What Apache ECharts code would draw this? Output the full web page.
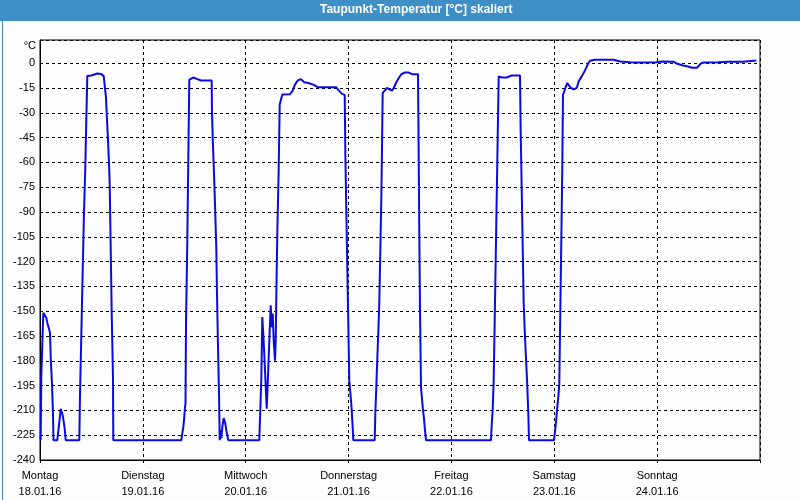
<!DOCTYPE html>
<html><head><meta charset="utf-8">
<script src="https://cdn.jsdelivr.net/npm/echarts@6/dist/echarts.min.js"></script>
<style>html,body{margin:0;padding:0;background:#fcfdfc}#c{width:800px;height:500px}</style>
</head><body><div id="c"></div>
<script>
const chartTitle = 'Taupunkt-Temperatur [°C] skaliert';
const unitLabel = '°C';
const dayNames = ['Montag', 'Dienstag', 'Mittwoch', 'Donnerstag', 'Freitag', 'Samstag', 'Sonntag'];
const dayDates = ['18.01.16', '19.01.16', '20.01.16', '21.01.16', '22.01.16', '23.01.16', '24.01.16'];
// hours since 18.01.16 00:00
const hours = [
  0.16, 0.30, 0.54, 0.77, 1.10, 1.47, 1.70, 2.03, 2.33, 2.50, 2.80, 3.03, 3.15, 4.04, 4.20, 4.43, 4.67, 4.83, 5.13, 5.30,
  5.53, 5.76, 6.00, 9.17, 9.33, 9.57, 9.80, 10.03, 10.27, 10.57, 10.80, 11.04, 11.97, 13.37, 14.16, 14.86, 15.17, 15.40, 15.63, 15.87,
  16.10, 16.26, 16.50, 16.73, 17.03, 17.10, 32.97, 33.20, 33.44, 33.60, 33.83, 33.95, 34.07, 34.37, 34.60, 34.84, 35.00, 35.77, 36.56, 37.57,
  40.06, 40.13, 40.37, 40.67, 40.90, 41.14, 41.30, 41.53, 41.77, 41.93, 42.16, 42.30, 42.54, 42.86, 43.17, 43.47, 43.70, 43.94, 51.17, 51.40,
  51.64, 51.87, 52.20, 52.43, 52.66, 52.90, 53.13, 53.36, 53.60, 53.83, 54.06, 54.30, 54.53, 54.83, 55.00, 55.14, 55.37, 55.70, 55.93, 56.23,
  56.54, 56.93, 58.33, 58.87, 59.50, 60.13, 60.90, 61.67, 62.60, 63.77, 64.80, 69.07, 69.70, 70.47, 71.10, 71.24, 71.47, 71.70, 71.94, 72.17,
  72.50, 72.73, 72.96, 73.10, 78.10, 78.24, 78.47, 78.70, 78.94, 79.17, 79.40, 79.64, 79.80, 79.96, 80.43, 80.97, 81.50, 82.13, 82.53, 83.07,
  83.70, 84.30, 85.10, 86.03, 86.80, 88.20, 88.36, 88.50, 88.67, 88.90, 89.13, 89.37, 89.60, 89.83, 90.07, 105.23, 105.40, 105.63, 105.86, 106.10,
  106.33, 106.56, 106.80, 107.03, 107.80, 108.90, 110.06, 112.00, 112.16, 112.40, 112.63, 112.86, 113.10, 113.40, 113.70, 113.94, 114.10, 119.93, 120.24, 120.47,
  120.70, 120.94, 121.17, 121.40, 121.64, 121.87, 122.03, 122.34, 122.73, 123.04, 123.36, 123.83, 124.60, 125.23, 125.70, 126.40, 127.17, 127.94, 128.33, 129.50,
  133.77, 135.33, 137.67, 139.53, 143.80, 144.97, 147.93, 148.70, 150.03, 151.20, 152.13, 153.30, 154.30, 154.93, 158.20, 160.53, 164.03, 164.43, 167.14
];
const dewpoint = [
  -228, -190, -170, -151, -151, -154, -157, -160, -163, -178, -194, -212, -228, -228, -224, -219, -213, -209, -210, -213,
  -217, -221, -228, -228, -201, -173, -145, -118, -90, -63, -35, -7.7, -7.5, -6.3, -6.5, -7.7, -8.5, -21, -34, -46.5,
  -60.6, -73, -112, -151.5, -190, -228, -228, -224, -220, -216, -208, -206, -158, -108, -58.6, -10, -9.7, -8.7, -9.5, -10.5,
  -10.5, -30, -50.5, -71.7, -91, -112, -140, -170.7, -200, -228, -222, -227, -220, -214.7, -217, -222, -225, -228, -228, -210,
  -191, -153.5, -168.7, -182, -195, -209, -194, -178, -161.6, -146.5, -159.6, -151.5, -167.7, -180, -168, -141.4, -103, -63.6, -25, -22,
  -19, -18, -18.8, -17, -13, -10.5, -9.7, -11.5, -12, -13, -14.5, -14.5, -16.5, -18.6, -19.2, -53.5, -89, -123, -157.6, -192,
  -202, -210, -220, -228, -228, -212, -196, -179, -162.6, -145, -114, -82, -50.5, -18, -16.6, -15, -15.8, -16.6, -15, -12,
  -9, -6.7, -5.7, -5.7, -6.7, -6.7, -54.5, -102, -149.5, -196, -203, -210, -215, -222, -228, -228, -219, -209, -192, -155.5,
  -119, -82, -44.4, -8, -8.7, -8.7, -7.5, -7.5, -41.4, -76.4, -111, -145.4, -161.6, -178.8, -195, -212, -228, -228, -221, -215,
  -208, -202, -194, -150.5, -107, -62.6, -19, -17, -14, -12, -13, -15, -15.8, -15, -11, -8, -4.4, 0, 1.4, 2,
  2, 1, 0.6, 0.4, 0.6, 1, 0.8, -0.4, -1.4, -2, -2.8, -2.8, 0, 0.4, 0.6, 0.8, 0.8, 1.6, 1.6
];
const yMin = -240, yMax = 14, yStep = 15;
const xMin = 0, xMax = 168, xStep = 24;

const chart = echarts.init(document.getElementById('c'), null, {renderer: 'canvas'});
const font = '"Liberation Sans", Arial, sans-serif';
const gridDash = {color: '#000', width: 1, type: [3, 3]};
chart.setOption({
  animation: false,
  backgroundColor: '#fcfdfc',
  textStyle: {fontFamily: font},
  grid: {left: 40, top: 40, right: 40, bottom: 40, show: true, borderColor: '#000', borderWidth: 1, backgroundColor: 'transparent'},
  xAxis: {
    type: 'value', min: xMin, max: xMax, interval: xStep,
    axisLine: {show: true, onZero: false, lineStyle: {color: '#000'}},
    axisTick: {show: true, length: 3, lineStyle: {color: '#000', type: [3, 3]}},
    splitLine: {show: true, lineStyle: gridDash},
    axisLabel: {
      margin: 8, color: '#000', fontSize: 11, fontFamily: font, lineHeight: 16,
      formatter: function (v) {
        const i = Math.round(v / xStep);
        return i < dayNames.length ? dayNames[i] + '\n' + dayDates[i] : '';
      }
    }
  },
  yAxis: {
    type: 'value', min: yMin, max: yMax, interval: yStep,
    axisLine: {show: true, onZero: false, lineStyle: {color: '#000'}},
    axisTick: {show: false},
    splitLine: {show: true, lineStyle: gridDash},
    axisLabel: {
      margin: 5, color: '#000', fontSize: 11, fontFamily: font,
      formatter: function (v) { return v % yStep === 0 ? String(v) : ''; }
    }
  },
  graphic: [
    {type: 'rect', left: 0, top: 0, shape: {width: 800, height: 21}, style: {fill: '#3d8fc6'}, z: 10},
    {type: 'text', left: 320, top: 4, style: {text: chartTitle, fill: '#fff', font: 'bold 12px ' + font}, z: 11},
    {type: 'text', right: 764, top: 40, style: {text: unitLabel, fill: '#000', font: '11px ' + font}, z: 11},
    {type: 'rect', left: 0, top: 0, shape: {x: 0.5, y: 0.5, width: 799, height: 499}, style: {fill: null, stroke: '#3d8fc6', lineWidth: 1}, z: 12}
  ],
  series: [{
    type: 'line',
    data: hours.map((h, i) => [h, dewpoint[i]]),
    showSymbol: false,
    symbol: 'none',
    lineStyle: {color: '#0a0ae6', width: 2},
    clip: true
  }]
});
</script>
</body></html>
